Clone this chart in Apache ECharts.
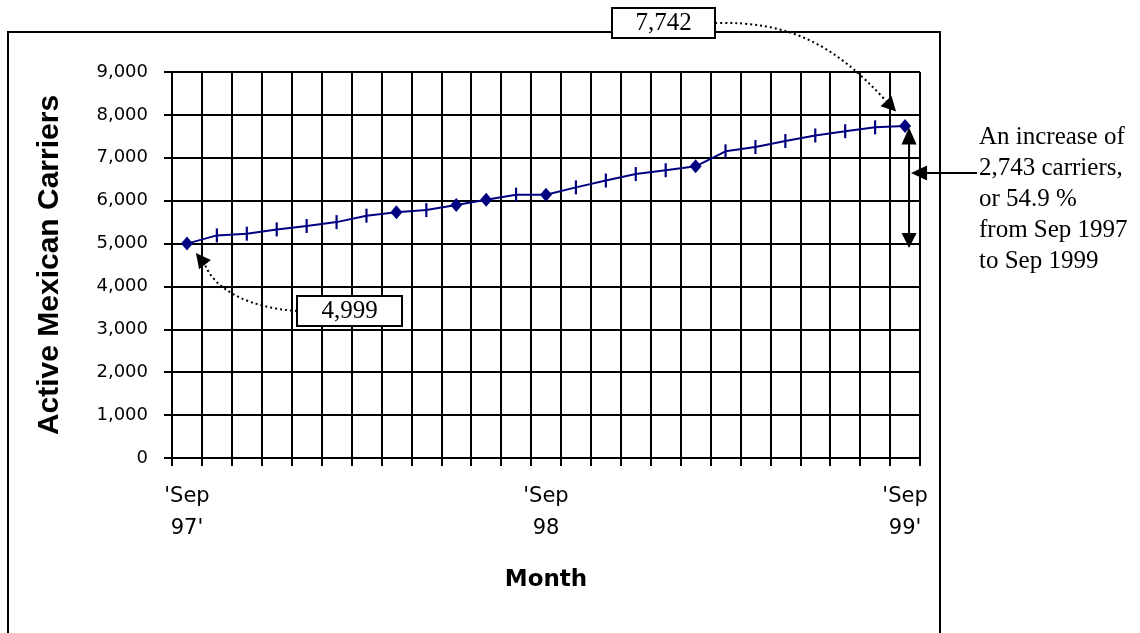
<!DOCTYPE html>
<html>
<head>
<meta charset="utf-8">
<script src="https://cdn.jsdelivr.net/npm/echarts@6/dist/echarts.min.js"></script>
<style>
html,body{margin:0;padding:0;background:#fff;}
#chart{width:1140px;height:633px;}
</style>
</head>
<body>
<div id="chart"></div>
<script>
// ---- data ----
const categories = ['Sep 97','Oct 97','Nov 97','Dec 97','Jan 98','Feb 98','Mar 98','Apr 98','May 98','Jun 98','Jul 98','Aug 98',
  'Sep 98','Oct 98','Nov 98','Dec 98','Jan 99','Feb 99','Mar 99','Apr 99','May 99','Jun 99','Jul 99','Aug 99','Sep 99'];
const carriers = [4999,5190,5230,5330,5410,5500,5650,5730,5780,5900,6020,6140,
  6140,6310,6470,6620,6710,6800,7150,7250,7390,7520,7620,7710,7742];
const diamondMonths = ['Sep 97','Apr 98','Jun 98','Jul 98','Sep 98','Feb 99','Sep 99'];
const xTickMonths = ['Sep 97','Sep 98','Sep 99'];
const xTickLabels = ["'Sep 97'", "'Sep 98", "'Sep 99'"];
const yMin = 0, yMax = 9000, yStep = 1000;
const noteLines = ['An increase of','2,743 carriers,','or 54.9 %','from Sep 1997','to Sep 1999'];
const yTitle = 'Active Mexican Carriers';
const xTitle = 'Month';

const chart = echarts.init(document.getElementById('chart'), null, {renderer:'canvas'});
const NAVY = '#000080';
const seriesData = carriers.map((v, i) => {
  const d = diamondMonths.indexOf(categories[i]) >= 0;
  return {value: v, symbol: d ? 'diamond' : 'rect', symbolSize: d ? [12, 14] : [2.2, 14]};
});

chart.setOption({
  animation: false,
  backgroundColor: '#fff',
  grid: {left: 172, right: 220, top: 72, bottom: 175, containLabel: false},
  xAxis: {
    type: 'category',
    data: categories,
    boundaryGap: true,
    name: xTitle,
    nameLocation: 'middle',
    nameGap: 111,
    nameTextStyle: {fontFamily: 'DejaVu Sans', fontWeight: 'bold', fontSize: 23, color: '#000'},
    axisLine: {show: true, lineStyle: {color: '#000', width: 2}},
    axisTick: {show: true, interval: 0, length: 8, lineStyle: {color: '#000', width: 2}},
    splitLine: {show: true, interval: 0, lineStyle: {color: '#000', width: 2}},
    axisLabel: {
      interval: 0,
      margin: 23,
      lineHeight: 32,
      fontFamily: 'DejaVu Sans', fontSize: 21, color: '#000',
      formatter: (val) => {
        const k = xTickMonths.indexOf(val);
        return k >= 0 ? xTickLabels[k].replace(' ', '\n') : '';
      }
    }
  },
  yAxis: {
    type: 'value',
    min: yMin, max: yMax, interval: yStep,
    name: yTitle,
    nameLocation: 'middle',
    nameGap: 107,
    nameTextStyle: {fontFamily: 'Liberation Sans', fontWeight: 'bold', fontSize: 30, color: '#000'},
    axisLine: {show: true, lineStyle: {color: '#000', width: 2}},
    axisTick: {show: true, length: 8, lineStyle: {color: '#000', width: 2}},
    splitLine: {show: true, lineStyle: {color: '#000', width: 2}},
    axisLabel: {
      margin: 24,
      fontFamily: 'DejaVu Sans', fontSize: 18, color: '#000',
      formatter: (v) => v.toLocaleString('en-US')
    }
  },
  series: [{
    type: 'line',
    data: seriesData,
    lineStyle: {color: NAVY, width: 2},
    itemStyle: {color: NAVY},
    showAllSymbol: true,
    z: 5
  }]
});

// ---- annotations anchored to data ----
function arrowHead(tip, base, width) {
  const dx = tip[0] - base[0], dy = tip[1] - base[1];
  const L = Math.hypot(dx, dy);
  const nx = -dy / L * width / 2, ny = dx / L * width / 2;
  return [tip, [base[0] + nx, base[1] + ny], [base[0] - nx, base[1] - ny]];
}
const last = categories.length - 1;
const pFirst = chart.convertToPixel({gridIndex: 0}, [0, carriers[0]]);
const pLast = chart.convertToPixel({gridIndex: 0}, [last, carriers[last]]);
const fmt = (v) => v.toLocaleString('en-US');
const serif = 'Liberation Serif';
const Z = 100;
const els = [];

// outer frame
els.push({type: 'rect', z: Z - 10, shape: {x: 8, y: 32, width: 932, height: 660},
  style: {fill: 'none', stroke: '#000', lineWidth: 2}});

// first value callout
const tip1 = [pFirst[0] + 9, pFirst[1] + 9.5];
const base1 = [tip1[0] + 9, tip1[1] + 11.5];
els.push({type: 'bezierCurve', z: Z, shape: {x1: 297, y1: 311, cpx1: 250, cpy1: 308, cpx2: 215, cpy2: 290, x2: base1[0], y2: base1[1]},
  style: {stroke: '#000', lineWidth: 2, lineDash: [2, 3], fill: 'none'}});
els.push({type: 'polygon', z: Z, shape: {points: arrowHead(tip1, base1, 15)}, style: {fill: '#000'}});
els.push({type: 'rect', z: Z, shape: {x: 297, y: 296, width: 105, height: 30},
  style: {fill: '#fff', stroke: '#000', lineWidth: 2}});
els.push({type: 'text', z: Z + 1, x: 349.5, y: 311,
  style: {text: fmt(carriers[0]), font: '25px "' + serif + '"', fill: '#000', align: 'center', verticalAlign: 'middle'}});

// last value callout
const tip2 = [pLast[0] - 9, pLast[1] - 14.5];
const base2 = [tip2[0] - 10, tip2[1] - 10.5];
els.push({type: 'bezierCurve', z: Z, shape: {x1: 715, y1: 23, cpx1: 790, cpy1: 21, cpx2: 835, cpy2: 45, x2: base2[0], y2: base2[1]},
  style: {stroke: '#000', lineWidth: 2, lineDash: [2, 3], fill: 'none'}});
els.push({type: 'polygon', z: Z, shape: {points: arrowHead(tip2, base2, 15)}, style: {fill: '#000'}});
els.push({type: 'rect', z: Z, shape: {x: 612, y: 8, width: 103, height: 30},
  style: {fill: '#fff', stroke: '#000', lineWidth: 2}});
els.push({type: 'text', z: Z + 1, x: 663.5, y: 23,
  style: {text: fmt(carriers[last]), font: '25px "' + serif + '"', fill: '#000', align: 'center', verticalAlign: 'middle'}});

// double-headed range arrow
const ax = pLast[0] + 4;
const yTop = pLast[1] + 1.5, yBot = pFirst[1] + 4.5;
els.push({type: 'line', z: Z, shape: {x1: ax, y1: yTop + 10, x2: ax, y2: yBot - 10}, style: {stroke: '#000', lineWidth: 2}});
els.push({type: 'polygon', z: Z, shape: {points: arrowHead([ax, yTop], [ax, yTop + 17], 15)}, style: {fill: '#000'}});
els.push({type: 'polygon', z: Z, shape: {points: arrowHead([ax, yBot], [ax, yBot - 15], 15)}, style: {fill: '#000'}});

// pointer from note to range arrow
const hy = 173;
els.push({type: 'line', z: Z, shape: {x1: ax + 12, y1: hy, x2: 977, y2: hy}, style: {stroke: '#000', lineWidth: 2}});
els.push({type: 'polygon', z: Z, shape: {points: arrowHead([ax + 2, hy], [ax + 18, hy], 15)}, style: {fill: '#000'}});

// note text
els.push({type: 'text', z: Z, x: 979, y: 122,
  style: {text: noteLines.join('\n'), font: '25px "' + serif + '"', lineHeight: 31, fill: '#000', align: 'left', verticalAlign: 'top'}});

chart.setOption({graphic: {elements: els}});
</script>
</body>
</html>
